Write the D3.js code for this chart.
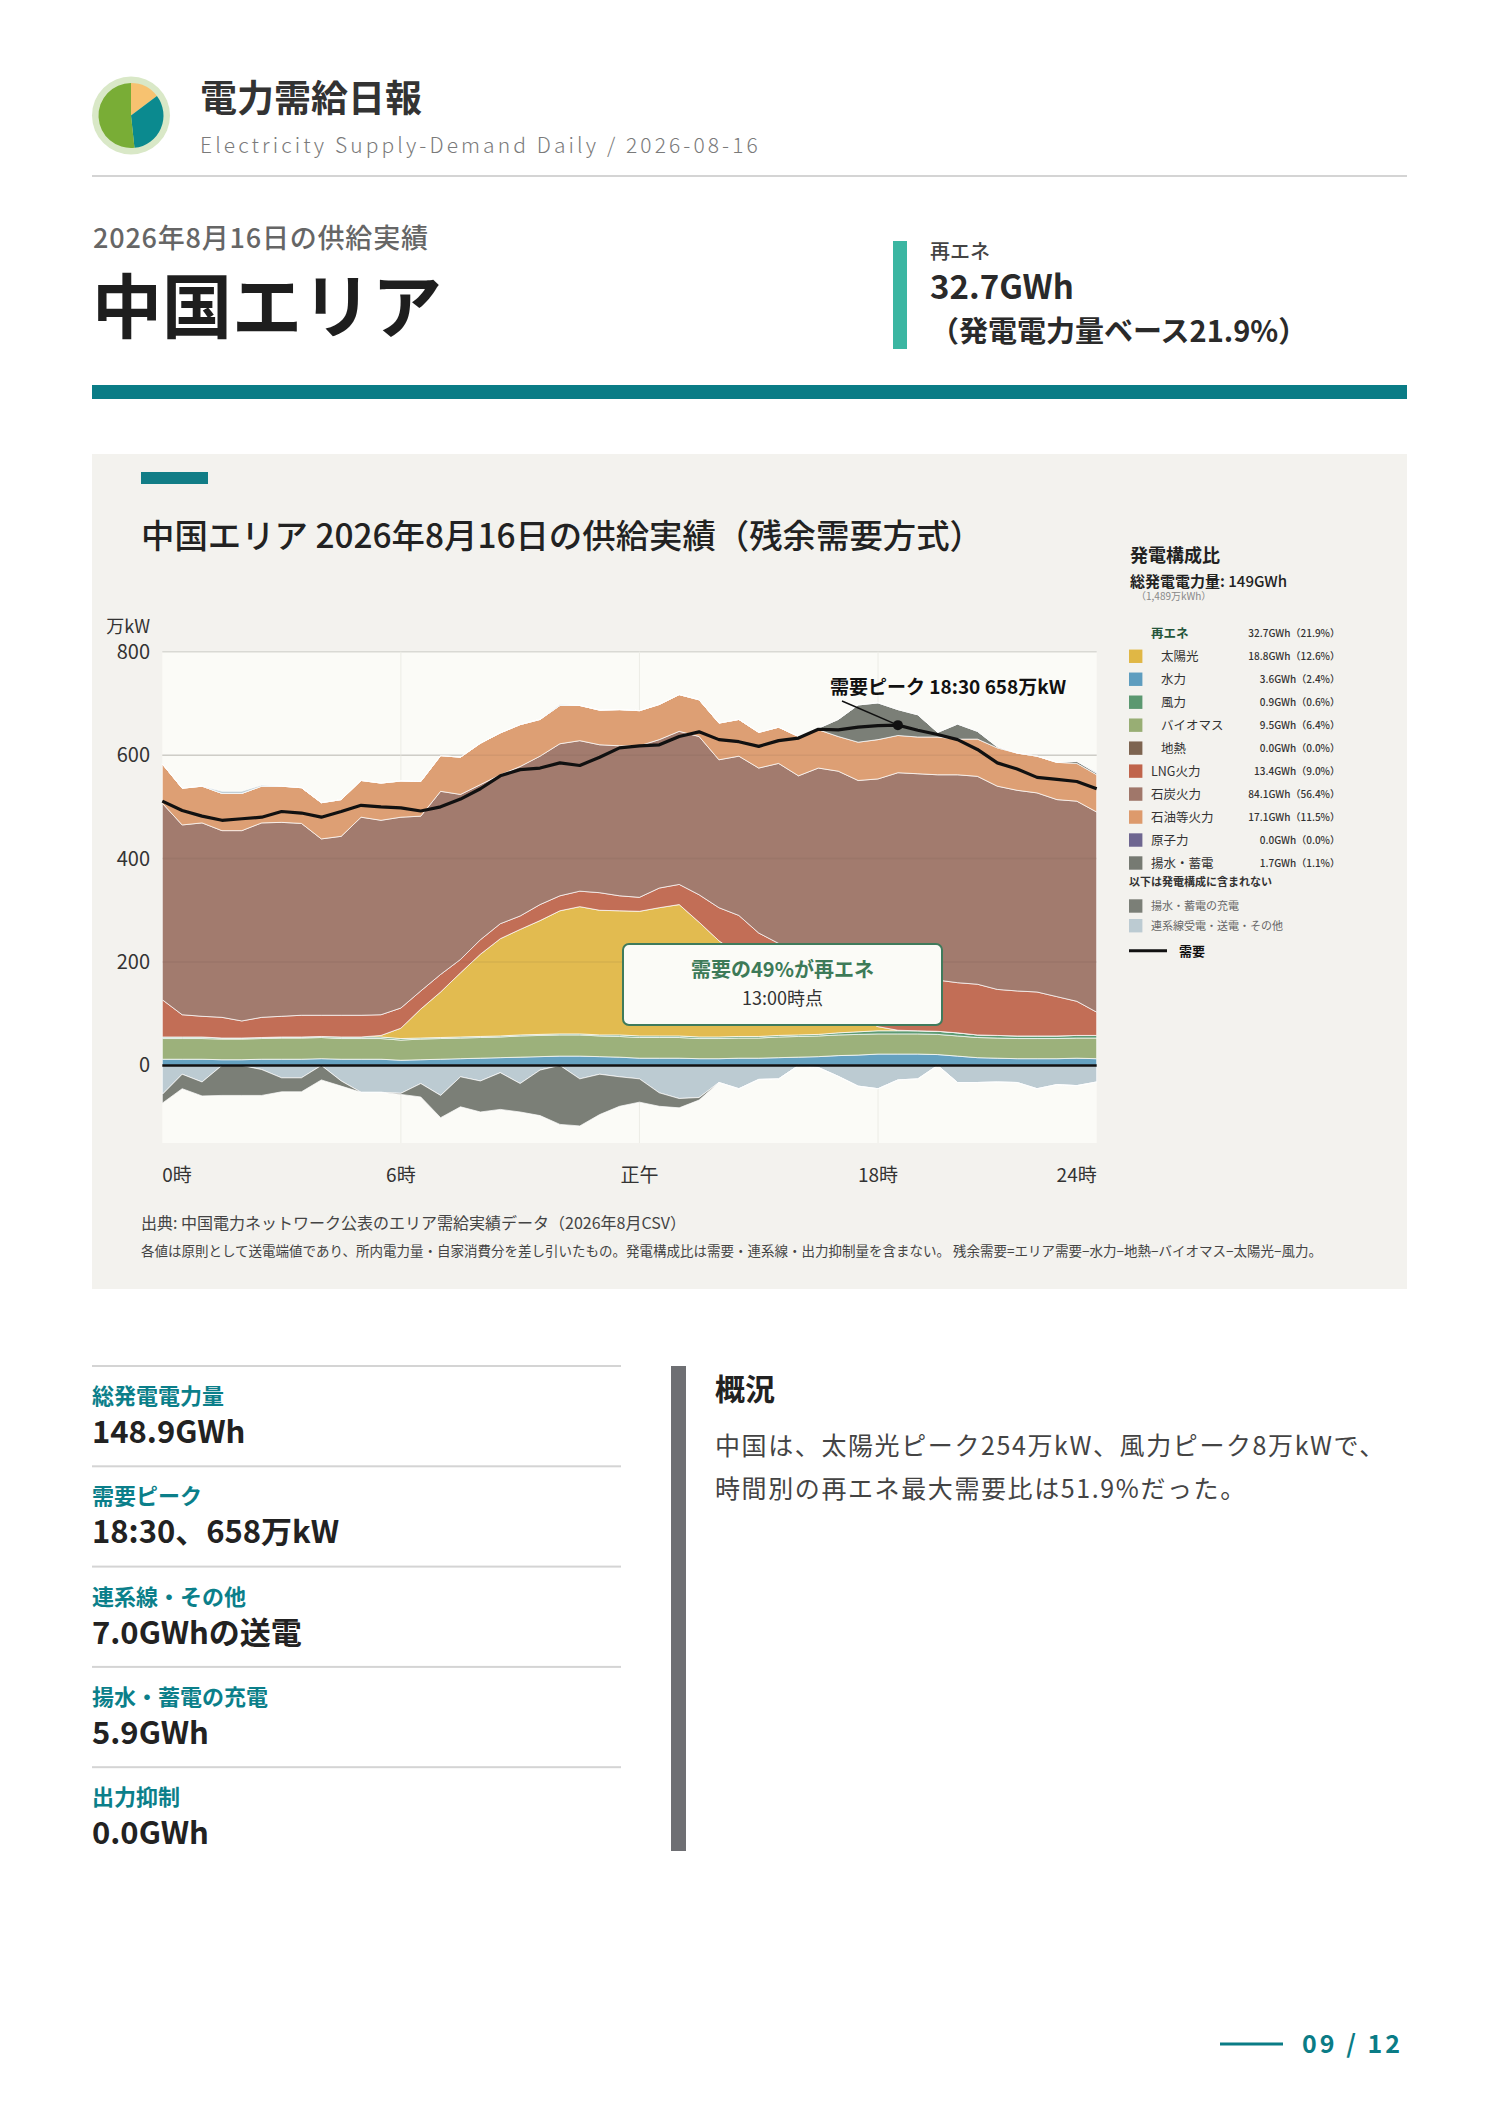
<!DOCTYPE html>
<html>
<head>
<meta charset="utf-8">
<script src="https://cdn.jsdelivr.net/npm/d3@7"></script>
<style>
  html, body { margin: 0; padding: 0; background: #fff; }
  svg { display: block; font-family: "Noto Sans CJK JP", "Noto Sans", sans-serif; }
</style>
</head>
<body>
<script>
// ---- data (万kW, 30分値 0:00〜23:30) ----
var slots = d3.range(0, 24, 0.5);

var hydro      = [12,12,12,11,11,12,12,12,13,12,12,12, 10,11,12,13,14,15,16,17,18,18,17,16, 14,14,14,13,13,14,14,15,16,17,19,20, 22,22,22,21,18,15,14,13,13,13,14,13];
var biomass    = [40,40,40,40,40,40,41,41,41,40,40,40, 39,40,40,40,40,40,41,41,41,41,40,40, 40,40,40,39,39,39,39,40,40,40,40,40, 39,39,39,39,39,39,39,39,39,39,39,40];
var wind       = [3,3,3,2,2,2,2,2,2,3,3,3, 3,2,2,2,2,2,2,2,2,2,2,3, 3,3,3,3,3,3,3,3,3,3,4,5, 6,6,6,6,6,5,5,5,5,5,5,5];
var geothermal = [0,0,0,0,0,0,0,0,0,0,0,0, 0,0,0,0,0,0,0,0,0,0,0,0, 0,0,0,0,0,0,0,0,0,0,0,0, 0,0,0,0,0,0,0,0,0,0,0,0];
var solar      = [0,0,0,0,0,0,0,0,0,0,0,3, 20,56,88,124,159,188,204,220,238,246,241,240, 241,248,254,222,186,158,132,108,86,66,46,28, 8,1,0,0,0,0,0,0,0,0,0,0];
var lng        = [72,43,40,40,33,39,40,42,41,42,42,40, 39,35,34,26,28,29,26,31,29,30,34,29, 27,38,39,53,64,76,68,70,70,74,79,85, 97,100,99,99,97,98,89,87,85,76,66,45];
var coal       = [380,367,374,361,368,376,375,371,341,346,383,376, 369,338,354,319,300,288,289,287,294,291,286,290, 293,287,296,306,286,308,319,348,345,375,381,373, 382,398,398,397,402,402,393,388,385,381,387,387];
var oil        = [76,71,71,72,72,71,70,69,70,71,71,72, 70,67,69,72,80,81,81,71,74,68,67,70, 68,68,71,71,71,71,69,70,76,74,67,74, 76,72,71,73,69,72,74,72,71,72,73,72];
var nuclear    = [0,0,0,0,0,0,0,0,0,0,0,0, 0,0,0,0,0,0,0,0,0,0,0,0, 0,0,0,0,0,0,0,0,0,0,0,0, 0,0,0,0,0,0,0,0,0,0,0,0];
var pumpedGen  = [0,0,0,0,0,0,0,0,0,0,0,0, 0,0,0,0,0,0,0,0,0,0,0,0, 0,0,0,0,0,0,0,0,0,3,33,72, 71,50,43,9,29,15,2,0,0,0,4,3];
var interIn    = [0,0,0,4,4,2,0,0,0,0,0,0, 0,0,0,0,0,0,0,0,2,0,0,0, 0,0,0,0,0,0,0,0,0,0,0,0, 0,0,0,0,0,0,0,0,0,0,0,2];
var interOut   = [56,17,32,0,0,8,24,24,0,30,52,52, 54,35,58,22,30,14,35,9,0,26,17,22, 26,53,64,62,33,45,27,26,0,4,21,40, 45,28,26,0,33,33,32,33,45,37,39,32];
var pumpedChg  = [17,28,27,58,58,50,27,27,28,10,0,0, 2,26,43,58,60,71,55,88,114,91,78,57, 45,26,18,5,0,0,0,0,0,0,0,0, 0,0,0,0,0,0,0,0,0,0,0,0];
var demand     = [511,493,482,474,477,480,491,488,480,491,503,500, 498,492,500,515,535,560,572,575,585,580,596,614, 618,620,636,645,630,626,617,628,633,650,649,654, 657,658,648,640,630,611,585,573,557,553,549,535];

var yTicks = [0, 200, 400, 600, 800];
var xTickHours = [0, 6, 12, 18, 23.5];
var xTickLabels = ["0時", "6時", "正午", "18時", "24時"];

var legendKeys   = ["renew", "solar", "hydro", "wind", "biomass", "geothermal", "lng", "coal", "oil", "nuclear", "pumped"];
var legendLabels = ["再エネ", "太陽光", "水力", "風力", "バイオマス", "地熱", "LNG火力", "石炭火力", "石油等火力", "原子力", "揚水・蓄電"];
var legendGWh    = ["32.7GWh", "18.8GWh", "3.6GWh", "0.9GWh", "9.5GWh", "0.0GWh", "13.4GWh", "84.1GWh", "17.1GWh", "0.0GWh", "1.7GWh"];
var legendPct    = ["21.9%", "12.6%", "2.4%", "0.6%", "6.4%", "0.0%", "9.0%", "56.4%", "11.5%", "0.0%", "1.1%"];

var kpiLabels = ["総発電電力量", "需要ピーク", "連系線・その他", "揚水・蓄電の充電", "出力抑制"];
var kpiValues = ["148.9GWh", "18:30、658万kW", "7.0GWhの送電", "5.9GWh", "0.0GWh"];

var logoShares = [14.7, 33.6, 51.7];
var peakIndex = 37;

// ---- styles ----
var color = {
  hydro: "#65a1c0", biomass: "#9cb17b", wind: "#5e9b73", geothermal: "#7c6552",
  solar: "#e2bb50", lng: "#c26e56", coal: "#a27b6e", oil: "#dd9f74",
  nuclear: "#6f6791", pumpedGen: "#7b7f77", interIn: "#bccbd2",
  interOut: "#bccbd2", pumpedChg: "#7b7f77"
};
var legendColor = {
  solar: "#e0b745", hydro: "#5e9dbf", wind: "#5b9870", biomass: "#98ae74", geothermal: "#7d6450",
  lng: "#c0644b", coal: "#a0776a", oil: "#dd9a6c", nuclear: "#6e6690", pumped: "#767a72"
};
var teal = "#0a7c86";

var svg = d3.select("body").append("svg")
    .attr("width", 1488)
    .attr("height", 2105);

// ---- header ----
svg.append("circle").attr("cx", 131).attr("cy", 115.5).attr("r", 39).attr("fill", "#d9e8c7");
var pieArc = d3.arc().innerRadius(0).outerRadius(32.5);
var logoColors = ["#f7c270", "#0b8a8f", "#79ad36"];
svg.append("g").attr("transform", "translate(131,115.5)")
  .selectAll("path")
  .data(d3.pie().sort(null)(logoShares))
  .enter().append("path")
    .attr("d", pieArc)
    .attr("fill", function(d, i) { return logoColors[i]; });

svg.append("text").attr("x", 200).attr("y", 112)
  .attr("font-size", 37).attr("font-weight", 700).attr("fill", "#333")
  .text("電力需給日報");
svg.append("text").attr("x", 200).attr("y", 153)
  .attr("font-size", 21).attr("font-weight", 300).attr("letter-spacing", "3.1px").attr("fill", "#7a7a7a")
  .text("Electricity Supply-Demand Daily / 2026-08-16");
svg.append("rect").attr("x", 92).attr("y", 175).attr("width", 1315).attr("height", 2).attr("fill", "#d4d4d4");

svg.append("text").attr("x", 93).attr("y", 248)
  .attr("font-size", 27).attr("font-weight", 500).attr("letter-spacing", "0.8px").attr("fill", "#666")
  .text("2026年8月16日の供給実績");
svg.append("text").attr("x", 92).attr("y", 333)
  .attr("font-size", 70).attr("font-weight", 700).attr("fill", "#1e1e1e")
  .text("中国エリア");

svg.append("rect").attr("x", 893).attr("y", 241).attr("width", 14).attr("height", 108).attr("fill", "#3bb6a2");
svg.append("text").attr("x", 930).attr("y", 259)
  .attr("font-size", 20).attr("font-weight", 500).attr("fill", "#444").text("再エネ");
svg.append("text").attr("x", 930).attr("y", 299)
  .attr("font-size", 33).attr("font-weight", 700).attr("fill", "#2a2a2a").text("32.7GWh");
svg.append("text").attr("x", 930).attr("y", 342)
  .attr("font-size", 29).attr("font-weight", 700).attr("fill", "#2a2a2a").text("（発電電力量ベース21.9%）");

svg.append("rect").attr("x", 92).attr("y", 385).attr("width", 1315).attr("height", 14).attr("fill", teal);

// ---- chart card ----
svg.append("rect").attr("x", 92).attr("y", 454).attr("width", 1315).attr("height", 835).attr("fill", "#f3f2ee");
svg.append("rect").attr("x", 141).attr("y", 472).attr("width", 67).attr("height", 12).attr("fill", "#117d86");
svg.append("text").attr("x", 141).attr("y", 548)
  .attr("font-size", 33.4).attr("font-weight", 500).attr("fill", "#222")
  .text("中国エリア 2026年8月16日の供給実績（残余需要方式）");

var x = d3.scaleLinear().domain([0, 23.5]).range([162.3, 1096.7]);
var y = d3.scaleLinear().domain([-150, 800]).range([1143, 651.7]);

var plot = svg.append("g");
plot.append("rect")
  .attr("x", x(0)).attr("y", y(800))
  .attr("width", x(23.5) - x(0)).attr("height", y(-150) - y(800))
  .attr("fill", "#fbfbf7");

plot.append("g").selectAll("line").data(yTicks).enter().append("line")
  .attr("x1", x(0)).attr("x2", x(23.5))
  .attr("y1", function(d) { return y(d); }).attr("y2", function(d) { return y(d); })
  .attr("stroke", "#d9d9d4").attr("stroke-width", 1.5);
plot.append("g").selectAll("line").data([6, 12, 18]).enter().append("line")
  .attr("x1", function(d) { return x(d); }).attr("x2", function(d) { return x(d); })
  .attr("y1", y(800)).attr("y2", y(-150))
  .attr("stroke", "#ecece6").attr("stroke-width", 1);

var rows = slots.map(function(t, i) {
  return {
    t: t, hydro: hydro[i], biomass: biomass[i], wind: wind[i], geothermal: geothermal[i],
    solar: solar[i], lng: lng[i], coal: coal[i], oil: oil[i], nuclear: nuclear[i],
    pumpedGen: pumpedGen[i], interIn: interIn[i],
    interOut: -interOut[i], pumpedChg: -pumpedChg[i]
  };
});
var posKeys = ["hydro", "biomass", "wind", "geothermal", "solar", "lng", "coal", "oil", "nuclear", "pumpedGen", "interIn"];
var negKeys = ["interOut", "pumpedChg"];

var area = d3.area()
    .x(function(d) { return x(d.data.t); })
    .y0(function(d) { return y(d[0]); })
    .y1(function(d) { return y(d[1]); });

var layers = d3.stack().keys(posKeys)(rows).concat(d3.stack().keys(negKeys)(rows));

plot.append("g").selectAll("path")
  .data(layers.filter(function(s) { return d3.max(s, function(d) { return Math.abs(d[1] - d[0]); }) > 0; }))
  .enter().append("path")
    .attr("d", area)
    .attr("fill", function(d) { return color[d.key]; })
    .attr("stroke", "rgba(255,255,255,0.7)")
    .attr("stroke-width", 1)
    .attr("stroke-linejoin", "round");

// faint grid over the areas
plot.append("g").selectAll("line").data(yTicks.slice(1, 4)).enter().append("line")
  .attr("x1", x(0)).attr("x2", x(23.5))
  .attr("y1", function(d) { return y(d); }).attr("y2", function(d) { return y(d); })
  .attr("stroke", "rgba(80,60,50,0.08)").attr("stroke-width", 1.5);

// zero line
plot.append("line")
  .attr("x1", x(0)).attr("x2", x(23.5)).attr("y1", y(0)).attr("y2", y(0))
  .attr("stroke", "#111").attr("stroke-width", 2.5);

// demand
var line = d3.line()
    .x(function(d, i) { return x(slots[i]); })
    .y(function(d) { return y(d); });
plot.append("path").datum(demand)
  .attr("d", line)
  .attr("fill", "none").attr("stroke", "#111").attr("stroke-width", 3.2)
  .attr("stroke-linejoin", "round");

// axes labels
svg.append("text").attr("x", 150).attr("y", 633).attr("text-anchor", "end")
  .attr("font-size", 18).attr("fill", "#333").text("万kW");
svg.append("g").selectAll("text").data(yTicks).enter().append("text")
  .attr("x", 150).attr("y", function(d) { return y(d) + 7; })
  .attr("text-anchor", "end").attr("font-size", 20).attr("fill", "#333")
  .text(function(d) { return d; });
svg.append("g").selectAll("text").data(xTickHours).enter().append("text")
  .attr("x", function(d) { return x(d); }).attr("y", 1182)
  .attr("text-anchor", function(d, i) { return i === 0 ? "start" : (i === xTickHours.length - 1 ? "end" : "middle"); })
  .attr("font-size", 19).attr("fill", "#333")
  .text(function(d, i) { return xTickLabels[i]; });

// peak annotation
var px = x(slots[peakIndex]), py = y(demand[peakIndex]);
plot.append("line").attr("x1", 842).attr("y1", 701).attr("x2", px).attr("y2", py)
  .attr("stroke", "#111").attr("stroke-width", 1.5);
plot.append("circle").attr("cx", px).attr("cy", py).attr("r", 5).attr("fill", "#111");
svg.append("text").attr("x", 830).attr("y", 694)
  .attr("font-size", 19).attr("font-weight", 700).attr("fill", "#111")
  .text("需要ピーク 18:30 658万kW");

// renewable share callout
svg.append("rect").attr("x", 623).attr("y", 944).attr("width", 319).attr("height", 81).attr("rx", 6)
  .attr("fill", "#fbfbf7").attr("stroke", "#3f7b5c").attr("stroke-width", 2);
svg.append("text").attr("x", 782.5).attr("y", 977).attr("text-anchor", "middle")
  .attr("font-size", 20).attr("font-weight", 700).attr("fill", "#3d7a58").text("需要の49%が再エネ");
svg.append("text").attr("x", 782.5).attr("y", 1005).attr("text-anchor", "middle")
  .attr("font-size", 18).attr("fill", "#333").text("13:00時点");

// source notes
svg.append("text").attr("x", 141).attr("y", 1229)
  .attr("font-size", 16).attr("fill", "#444")
  .text("出典: 中国電力ネットワーク公表のエリア需給実績データ（2026年8月CSV）");
svg.append("text").attr("x", 141).attr("y", 1256)
  .attr("font-size", 13.5).attr("fill", "#444")
  .text("各値は原則として送電端値であり、所内電力量・自家消費分を差し引いたもの。発電構成比は需要・連系線・出力抑制量を含まない。 残余需要=エリア需要−水力−地熱−バイオマス−太陽光−風力。");

// ---- legend ----
var lg = svg.append("g");
lg.append("text").attr("x", 1130).attr("y", 562)
  .attr("font-size", 18).attr("font-weight", 700).attr("fill", "#222").text("発電構成比");
var tot = lg.append("text").attr("x", 1130).attr("y", 587).attr("font-size", 15).attr("fill", "#222");
tot.append("tspan").attr("font-weight", 700).text("総発電電力量: ");
tot.append("tspan").attr("font-weight", 500).text("149GWh");
lg.append("text").attr("x", 1136).attr("y", 600)
  .attr("font-size", 10).attr("fill", "#888").text("（1,489万kWh）");

var subKeys = ["solar", "hydro", "wind", "biomass", "geothermal"];
var row = lg.selectAll("g.row").data(legendKeys).enter().append("g")
  .attr("class", "row")
  .attr("transform", function(d, i) { return "translate(0," + (633.3 + i * 22.97) + ")"; });
row.filter(function(d) { return d !== "renew"; }).append("rect")
  .attr("x", 1129).attr("y", -6.7).attr("width", 13.4).attr("height", 13.4)
  .attr("fill", function(d) { return legendColor[d]; });
row.append("text")
  .attr("x", function(d) { return subKeys.indexOf(d) >= 0 ? 1161 : 1151; })
  .attr("y", 4.5)
  .attr("font-size", 12.5)
  .attr("font-weight", function(d) { return d === "renew" ? 700 : 400; })
  .attr("fill", function(d) { return d === "renew" ? "#24553a" : "#333"; })
  .text(function(d, i) { return legendLabels[i]; });
row.append("text")
  .attr("x", 1340).attr("y", 3.8).attr("text-anchor", "end")
  .attr("font-size", 10).attr("font-weight", 500).attr("fill", "#333")
  .text(function(d, i) { return legendGWh[i] + "（" + legendPct[i] + "）"; });

lg.append("text").attr("x", 1129).attr("y", 885.5)
  .attr("font-size", 11).attr("font-weight", 700).attr("fill", "#333").text("以下は発電構成に含まれない");
var extra = [["揚水・蓄電の充電", color.pumpedChg], ["連系線受電・送電・その他", color.interOut]];
var ex = lg.selectAll("g.ex").data(extra).enter().append("g")
  .attr("class", "ex")
  .attr("transform", function(d, i) { return "translate(0," + (906 + i * 19.7) + ")"; });
ex.append("rect").attr("x", 1129).attr("y", -6.7).attr("width", 13.4).attr("height", 13.4)
  .attr("fill", function(d) { return d[1]; });
ex.append("text").attr("x", 1151).attr("y", 4).attr("font-size", 11).attr("fill", "#666")
  .text(function(d) { return d[0]; });
lg.append("line").attr("x1", 1129).attr("x2", 1167).attr("y1", 950.7).attr("y2", 950.7)
  .attr("stroke", "#111").attr("stroke-width", 3);
lg.append("text").attr("x", 1179).attr("y", 955.5)
  .attr("font-size", 13).attr("font-weight", 700).attr("fill", "#111").text("需要");

// ---- KPI list ----
var kpi = svg.selectAll("g.kpi").data(kpiLabels).enter().append("g")
  .attr("class", "kpi")
  .attr("transform", function(d, i) { return "translate(0," + (1366 + i * 100.3) + ")"; });
kpi.append("rect").attr("x", 92).attr("y", -1).attr("width", 529).attr("height", 2).attr("fill", "#d4d4d4");
kpi.append("text").attr("x", 92).attr("y", 38)
  .attr("font-size", 22).attr("font-weight", 700).attr("fill", "#0b7f8a")
  .text(function(d) { return d; });
kpi.append("text").attr("x", 92).attr("y", 77)
  .attr("font-size", 31).attr("font-weight", 700).attr("fill", "#222")
  .text(function(d, i) { return kpiValues[i]; });

// ---- overview ----
svg.append("rect").attr("x", 671).attr("y", 1366).attr("width", 15).attr("height", 485).attr("fill", "#6e6f73");
svg.append("text").attr("x", 715).attr("y", 1400)
  .attr("font-size", 30).attr("font-weight", 700).attr("fill", "#222").text("概況");
svg.append("text").attr("x", 715).attr("y", 1455)
  .attr("font-size", 25).attr("letter-spacing", "1.6px").attr("fill", "#444")
  .text("中国は、太陽光ピーク254万kW、風力ピーク8万kWで、");
svg.append("text").attr("x", 715).attr("y", 1498)
  .attr("font-size", 25).attr("letter-spacing", "1.6px").attr("fill", "#444")
  .text("時間別の再エネ最大需要比は51.9%だった。");

// ---- footer ----
svg.append("rect").attr("x", 1220).attr("y", 2042.5).attr("width", 63).attr("height", 3).attr("fill", teal);
svg.append("text").attr("x", 1403).attr("y", 2053).attr("text-anchor", "end")
  .attr("font-size", 25).attr("font-weight", 700).attr("letter-spacing", "3px").attr("fill", teal)
  .text("09 / 12");
</script>
</body>
</html>
